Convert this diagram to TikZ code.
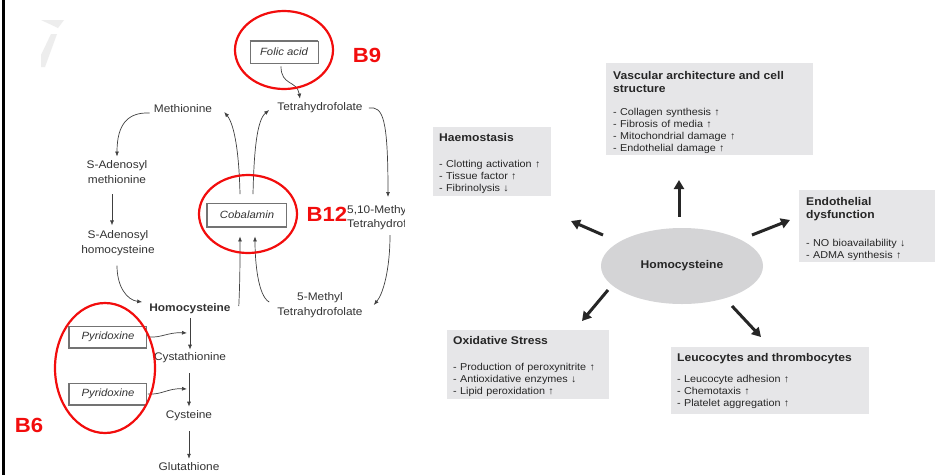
\documentclass[tikz,border=0pt]{standalone}
\usepackage{fontspec}
\setmainfont[FakeStretch=1.08]{Liberation Sans}
\usetikzlibrary{arrows.meta,shapes.geometric}
\definecolor{boxgray}{HTML}{E6E6E8}
\definecolor{ellgray}{HTML}{D4D4D6}
\definecolor{redmark}{HTML}{F20D0D}
\definecolor{txt}{HTML}{333333}
\definecolor{wm}{HTML}{EDEDED}
\newcommand\hcTitle{\fontsize{11.2}{12.5}\selectfont\bfseries}
\newcommand\hcItem{\fontsize{10}{12}\selectfont}
\begin{document}
\begin{tikzpicture}[x=1pt,y=-1pt,
  lab/.style={font=\fontsize{11}{14.5}\selectfont, text=txt, align=center, inner sep=1pt},
  vitbox/.style={draw=black!55, line width=0.9pt, font=\fontsize{10.5}{12}\selectfont\itshape, text=txt, inner sep=0pt},
  arr/.style={draw=black!75, line width=0.7pt, -{Latex[length=5pt,width=4pt]}},
  ring/.style={draw=redmark, line width=2.2pt},
  blab/.style={text=redmark, font=\fontsize{20.5}{20.5}\selectfont\bfseries, inner sep=0pt},
  infobox/.style={fill=boxgray, anchor=north west, align=left, inner xsep=6pt, inner ysep=2pt, text=black!85},
  fat/.style={line width=3pt, draw=black!85, -{Triangle[length=9pt,width=10pt]}}]
\useasboundingbox (0,0) rectangle (935,475);
\fill[white] (0,0) rectangle (935,475);
% left border and watermark
\draw[line width=2.5pt] (3.5,0) -- (3.5,475);
\fill[wm] (41,20) -- (64,20) -- (58,28) -- cycle;
\fill[wm] (51,34) -- (57,34) -- (45,67) -- (41,67) -- (41,55) -- cycle;

% ---------- left: metabolic pathway ----------
\node[vitbox, minimum width=68, minimum height=22] (fa) at (284,52) {Folic acid};
\draw[black!55, line width=2pt] (fa.north west) -- (fa.north east);
\node[lab] (thf) at (320,108) {Tetrahydrofolate};
\node[lab] (met) at (183,109) {Methionine};
\node[lab] (sam) at (117,172) {S-Adenosyl\\methionine};
\node[lab] (sah) at (118,243) {S-Adenosyl\\homocysteine};
\node[lab, font=\fontsize{11}{14.5}\selectfont\bfseries] (hcy) at (190,309) {Homocysteine};
\node[lab] (cys) at (190,358) {Cystathionine};
\node[lab] (cyst) at (189,416) {Cysteine};
\node[lab] (glu) at (189,467) {Glutathione};
\node[vitbox, minimum width=79, minimum height=23] (cob) at (247,215) {Cobalamin};
\draw[black!55, line width=1.8pt] (cob.north west) -- (cob.south west) -- (cob.south east);
\node[lab] (mthf) at (320,305) {5-Methyl\\Tetrahydrofolate};
\begin{scope}
  \clip (0,0) rectangle (404,475);
  \node[lab, align=left, anchor=north west] (mth) at (346,204) {5,10-Methylene\\Tetrahydrofolate};
\end{scope}
\node[vitbox, minimum width=77, minimum height=21] (pyr1) at (108,337) {Pyridoxine};
\draw[black!55, line width=1.8pt] (pyr1.north west) -- (pyr1.south west) -- (pyr1.south east);
\node[vitbox, minimum width=77, minimum height=21] (pyr2) at (108,394) {Pyridoxine};
\draw[black!55, line width=1.8pt] (pyr2.north west) -- (pyr2.south west) -- (pyr2.south east);
\coordinate (j1) at (187,333);
\coordinate (j2) at (187,389);

\draw[arr] ([xshift=-3pt,yshift=-3pt]fa.south) .. controls (281,86) and (297,80) .. ([xshift=-20pt,yshift=3pt]thf.north);
\draw[arr] ([xshift=-7pt,yshift=9pt]cob.north) .. controls (239,150) and (234,124) .. ([xshift=11pt,yshift=-3pt]met.east);
\draw[arr] ([xshift=6pt,yshift=9pt]cob.north) .. controls (254,150) and (257,120) .. ([xshift=-7pt,yshift=-2pt]thf.west);
\draw[arr] ([xshift=-3pt,yshift=-4pt]met.west) .. controls (128,112) and (117,124) .. ([yshift=3pt]sam.north);
\draw[arr] ([xshift=-5pt,yshift=-10pt]sam.south) -- ([xshift=-6pt,yshift=4pt]sah.north);
\draw[arr] ([xshift=-1pt,yshift=-9pt]sah.south) .. controls (117,287) and (127,300) .. ([xshift=-6pt,yshift=7pt]hcy.west);
\draw[arr] ([xshift=7pt,yshift=3pt]hcy.east) .. controls (240,280) and (240,262) .. ([xshift=-7pt,yshift=-9.5pt]cob.south);
\draw[arr] ([xshift=-7pt,yshift=3pt]mthf.west) .. controls (258,296) and (255,262) .. ([xshift=8pt,yshift=-9.5pt]cob.south);
\draw[arr] ([xshift=5pt]thf.east) .. controls (383,106) and (388,118) .. ([xshift=42pt,yshift=7pt]mth.north west);
\draw[arr] ([xshift=44pt,yshift=-31pt]mth.north west) .. controls (390,270) and (383,294) .. ([xshift=10pt]mthf.east);
\draw[arr, shorten <=3pt, shorten >=2pt] (hcy) -- (hcy |- cys.north);
\draw[arr, shorten <=9pt, shorten >=3pt] (cys.south -| cyst) -- (cyst);
\draw[arr, shorten <=9pt, shorten >=3pt] (cyst) -- (glu);
\draw[arr] ([xshift=1pt]pyr1.east) .. controls (162,338) and (168,332) .. (j1);
\draw[arr] ([xshift=1pt]pyr2.east) .. controls (162,395) and (168,388) .. (j2);

% red rings and labels
\draw[ring] (284,50) ellipse [x radius=49, y radius=39];
\draw[ring] (248,214) ellipse [x radius=49, y radius=39];
\draw[ring] (105,368) ellipse [x radius=50, y radius=65];
\node[blab] (b9) at (367,55) {B9};
\node[blab] (b12) at (327,214) {B12};
\node[blab] (b6) at (29,425) {B6};

% ---------- right: effects of homocysteine ----------
\node[fill=ellgray, ellipse, minimum width=162, minimum height=76, inner sep=0pt, font=\hcTitle, text=black!85] (hc) at (682,266) {Homocysteine};

\node[infobox, text width=193, inner xsep=7pt] (vas) at (606,63)
  {{\hcTitle\rule{0pt}{14.5pt}Vascular architecture and cell\\structure\par}\vspace{11pt}%
   {\hcItem - Collagen synthesis ↑\\- Fibrosis of media ↑\\- Mitochondrial damage ↑\\- Endothelial damage ↑\par}};
\node[infobox, text width=106] (hae) at (433,127)
  {{\hcTitle\rule{0pt}{12.5pt}Haemostasis\par}\vspace{14pt}%
   {\hcItem - Clotting activation ↑\\- Tissue factor ↑\\- Fibrinolysis ↓\par}};
\node[infobox, text width=124, inner xsep=7pt] (endo) at (799,190)
  {{\hcTitle\rule{0pt}{13.5pt}Endothelial\\dysfunction\par}\vspace{16pt}%
   {\hcItem - NO bioavailability ↓\\- ADMA synthesis ↑\par}};
\node[infobox, text width=150] (oxi) at (447,330)
  {{\hcTitle\rule{0pt}{12.5pt}Oxidative Stress\par}\vspace{14pt}%
   {\hcItem - Production of peroxynitrite ↑\\- Antioxidative enzymes ↓\\- Lipid peroxidation ↑\par}};
\node[infobox, text width=186] (leu) at (671,347)
  {{\hcTitle\rule{0pt}{12.5pt}Leucocytes and thrombocytes\par}\vspace{9pt}%
   {\hcItem - Leucocyte adhesion ↑\\- Chemotaxis ↑\\- Platelet aggregation ↑\par}\vspace{3pt}};

\draw[fat] ([xshift=-3pt,yshift=11pt]hc.north) -- ([xshift=73pt,yshift=-117pt]vas.north west);
\draw[fat] ([xshift=-79pt,yshift=31pt]hc.center) -- ([xshift=138pt,yshift=-94pt]hae.north west);
\draw[fat] ([xshift=70pt,yshift=31pt]hc.center) -- ([xshift=-9pt,yshift=-30pt]endo.north west);
\draw[fat] ([xshift=-74pt,yshift=-24pt]hc.center) -- ([xshift=135pt,yshift=9pt]oxi.north west);
\draw[fat] ([xshift=50pt,yshift=-40pt]hc.center) -- ([xshift=90pt,yshift=10pt]leu.north west);
\end{tikzpicture}
\end{document}
